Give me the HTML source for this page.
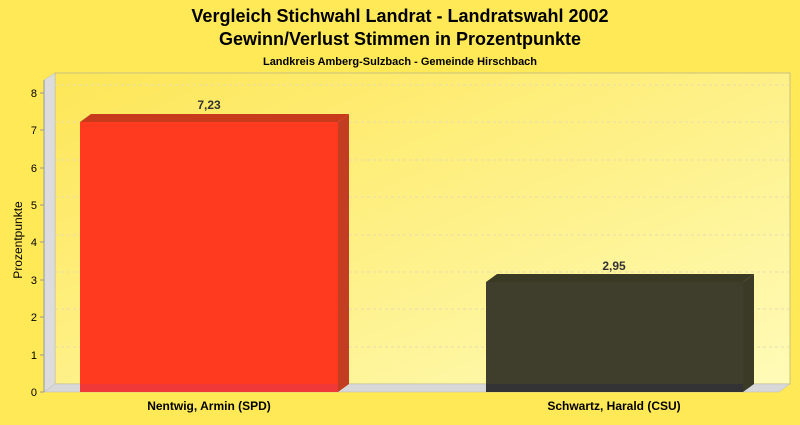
<!DOCTYPE html>
<html><head><meta charset="utf-8"><style>
body{margin:0;width:800px;height:420px;background:#ffe957;overflow:hidden}
svg text{font-family:"Liberation Sans",sans-serif}
</style></head><body>
<svg width="800" height="420" xmlns="http://www.w3.org/2000/svg">
<defs>
<linearGradient id="bg" x1="0" y1="0" x2="1" y2="1">
<stop offset="0" stop-color="#fde657"/><stop offset="1" stop-color="#fffbb8"/></linearGradient>
</defs>
<text x="400" y="22" text-anchor="middle" font-size="18" font-weight="bold">Vergleich Stichwahl Landrat - Landratswahl 2002</text>
<text x="400" y="45" text-anchor="middle" font-size="18" font-weight="bold">Gewinn/Verlust Stimmen in Prozentpunkte</text>
<text x="400" y="65" text-anchor="middle" font-size="11" font-weight="bold">Landkreis Amberg-Sulzbach - Gemeinde Hirschbach</text>
<rect x="55" y="73" width="735" height="311" fill="url(#bg)" stroke="#c8c080" stroke-width="1"/>
<polygon points="44,80 55,73 55,384 44,392" fill="#dcdcdc" stroke="#bbb" stroke-width="0.5"/>
<polygon points="44,392 55,384 790,384 779,392" fill="#d8d8d8" stroke="#bbb" stroke-width="0.5"/>
<g stroke="#e6ddb0" stroke-dasharray="3,3" stroke-width="1">
<line x1="55" y1="347" x2="790" y2="347"/><line x1="55" y1="309" x2="790" y2="309"/>
<line x1="55" y1="272" x2="790" y2="272"/><line x1="55" y1="235" x2="790" y2="235"/>
<line x1="55" y1="197" x2="790" y2="197"/><line x1="55" y1="160" x2="790" y2="160"/>
<line x1="55" y1="122" x2="790" y2="122"/><line x1="55" y1="85" x2="790" y2="85"/>
</g>
<line x1="44" y1="80" x2="44" y2="392" stroke="#999"/>
<g font-size="11" text-anchor="end">
<text x="37" y="396">0</text><text x="37" y="359">1</text><text x="37" y="321">2</text><text x="37" y="284">3</text>
<text x="37" y="246">4</text><text x="37" y="209">5</text><text x="37" y="172">6</text><text x="37" y="134">7</text><text x="37" y="97">8</text>
</g>
<g stroke="#999"><line x1="40" y1="392" x2="44" y2="392"/><line x1="40" y1="355" x2="44" y2="355"/><line x1="40" y1="317" x2="44" y2="317"/><line x1="40" y1="280" x2="44" y2="280"/><line x1="40" y1="242" x2="44" y2="242"/><line x1="40" y1="205" x2="44" y2="205"/><line x1="40" y1="168" x2="44" y2="168"/><line x1="40" y1="130" x2="44" y2="130"/><line x1="40" y1="93" x2="44" y2="93"/></g>
<text transform="translate(22,240) rotate(-90)" text-anchor="middle" font-size="12">Prozentpunkte</text>
<polygon points="80,122 91,114 349,114 338,122" fill="#c83a1c"/>
<polygon points="338,122 349,114 349,384 338,392" fill="#c23d22"/>
<rect x="80" y="122" width="258" height="270" fill="#ff3a1e"/>
<rect x="80" y="384" width="258" height="8" fill="#f03838"/>
<text x="209" y="109" text-anchor="middle" font-size="12" font-weight="bold" fill="#333">7,23</text>
<polygon points="486,282 497,274 754,274 743,282" fill="#3a3a24"/>
<polygon points="743,282 754,274 754,384 743,392" fill="#3a3a26"/>
<rect x="486" y="282" width="257" height="110" fill="#3f3e2c"/>
<rect x="486" y="384" width="257" height="8" fill="#333336"/>
<text x="614" y="270" text-anchor="middle" font-size="12" font-weight="bold" fill="#333">2,95</text>
<text x="209" y="410" text-anchor="middle" font-size="12" font-weight="bold">Nentwig, Armin (SPD)</text>
<text x="614" y="410" text-anchor="middle" font-size="12" font-weight="bold">Schwartz, Harald (CSU)</text>
</svg>
</body></html>
